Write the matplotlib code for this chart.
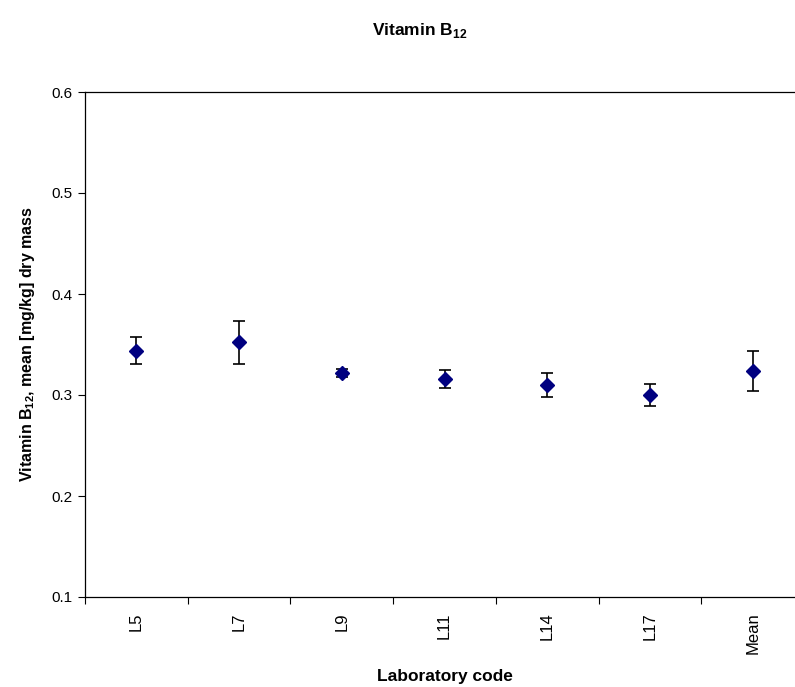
import matplotlib.pyplot as plt

# Laboratory results for vitamin B12
labs = ["L5", "L7", "L9", "L11", "L14", "L17", "Mean"]
means = [0.344, 0.352, 0.322, 0.316, 0.310, 0.300, 0.324]
errs = [0.013, 0.021, 0.004, 0.009, 0.012, 0.011, 0.020]
yticks = [0.1, 0.2, 0.3, 0.4, 0.5, 0.6]

plt.rcParams['font.family'] = ['Liberation Sans', 'DejaVu Sans']
plt.rcParams['mathtext.fontset'] = 'custom'
plt.rcParams['mathtext.rm'] = 'Liberation Sans'
plt.rcParams['mathtext.bf'] = 'Liberation Sans:bold'

W, H = 795, 687
fig = plt.figure(figsize=(W / 100, H / 100), dpi=100)
ax = fig.add_axes([85 / W, (H - 597) / H, (804 - 85) / W, (597 - 92) / H])

x = list(range(len(labs)))
ax.errorbar(x, means, yerr=errs, fmt='D', color='#000080', ms=7.5,
            ecolor='black', elinewidth=1.2, capsize=4.5, capthick=1.2)

ax.set_xlim(-0.5, len(labs) - 0.5)
ax.set_ylim(0.1, 0.6)
ax.set_yticks(yticks)
ax.set_yticklabels([f"{v:.1f}" for v in yticks], fontsize=11)
ax.set_xticks(x)
ax.set_xticklabels(labs, rotation=90, fontsize=12)
ax.set_xticks([i - 0.5 for i in range(len(labs) + 1)], minor=True)
ax.tick_params(axis='x', which='major', length=0, pad=11)
ax.tick_params(axis='x', which='minor', length=5, direction='out', width=0.8)
ax.tick_params(axis='y', length=5, direction='out', width=0.8, pad=4)
for s in ax.spines.values():
    s.set_linewidth(0.9)

ax.set_ylabel(r"Vitamin B$_\mathbf{12}$, mean [mg/kg] dry mass",
              fontsize=11.5, fontweight='bold', labelpad=10)
fig.text(445 / W, 1 - 677 / H, "Laboratory code", ha='center', va='center',
         fontsize=12.5, fontweight='bold')
fig.text(420 / W, 1 - 30 / H, r"Vitamin B$_\mathbf{12}$", ha='center',
         va='center', fontsize=12.5, fontweight='bold')

fig.savefig("out.png", dpi=100)
